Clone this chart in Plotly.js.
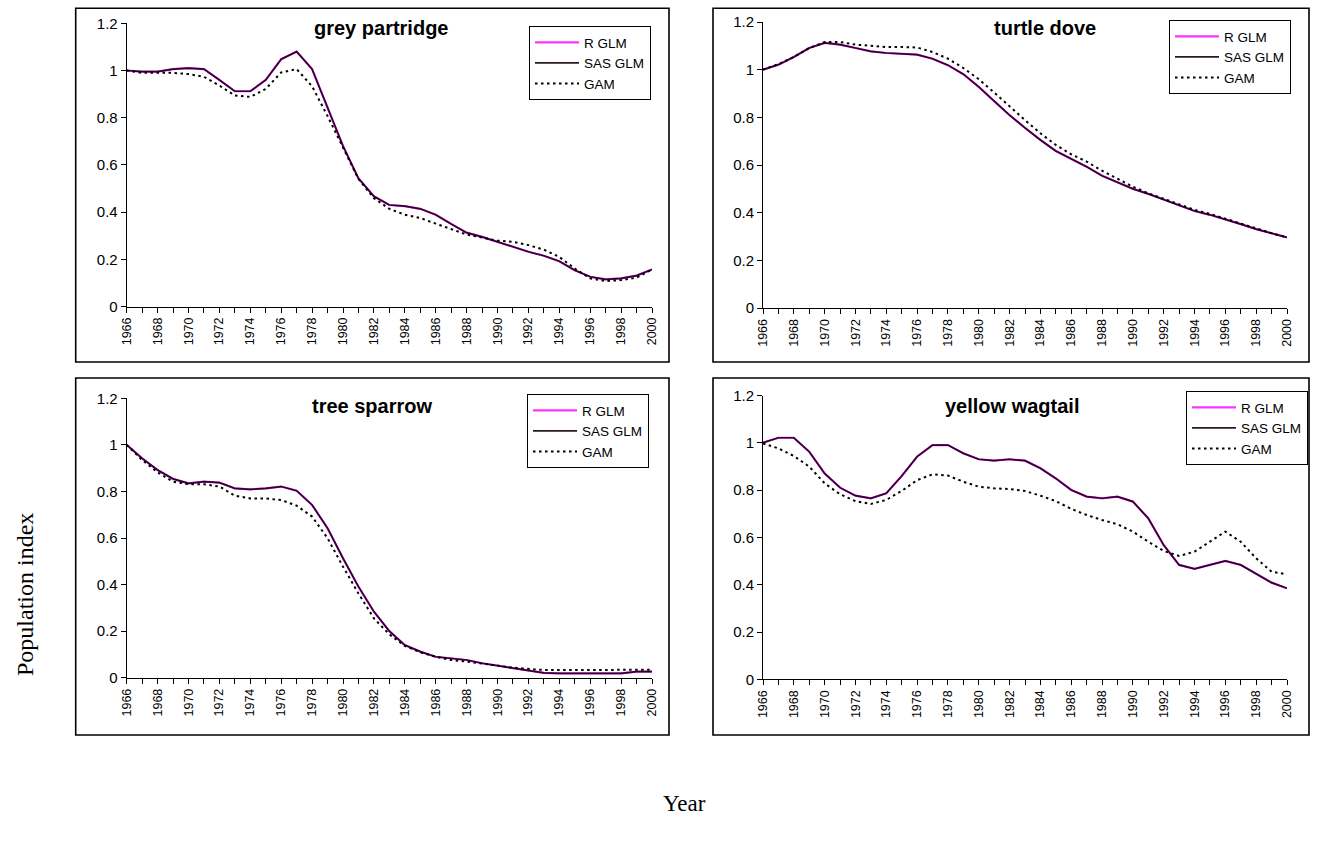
<!DOCTYPE html>
<html>
<head>
<meta charset="utf-8">
<script src="https://cdn.plot.ly/plotly-3.0.1.min.js"></script>
<style>html,body{margin:0;padding:0;background:#fff;}#chart{width:1317px;height:845px;}</style>
</head>
<body>
<div id="chart"></div>
<script>
// ---------- data ----------
const years = [1966,1967,1968,1969,1970,1971,1972,1973,1974,1975,1976,1977,1978,1979,1980,1981,1982,1983,1984,1985,1986,1987,1988,1989,1990,1991,1992,1993,1994,1995,1996,1997,1998,1999,2000];
const seriesNames = ["R GLM", "SAS GLM", "GAM"];
const panelTitles = ["grey partridge", "turtle dove", "tree sparrow", "yellow wagtail"];
const yTickVals = [0, 0.2, 0.4, 0.6, 0.8, 1, 1.2];

const greyPartridgeR   = [1.0,0.995,0.995,1.006,1.01,1.006,0.96,0.912,0.912,0.96,1.048,1.08,1.006,0.84,0.68,0.543,0.467,0.43,0.425,0.414,0.389,0.35,0.313,0.295,0.274,0.253,0.232,0.215,0.192,0.154,0.126,0.115,0.119,0.131,0.157];
const greyPartridgeSAS = [1.0,0.995,0.995,1.006,1.01,1.006,0.96,0.912,0.912,0.96,1.048,1.08,1.006,0.84,0.68,0.543,0.467,0.43,0.425,0.414,0.389,0.35,0.313,0.295,0.274,0.253,0.232,0.215,0.192,0.154,0.126,0.115,0.119,0.131,0.157];
const greyPartridgeGAM = [1.0,0.99,0.99,0.99,0.985,0.973,0.936,0.894,0.888,0.922,0.992,1.006,0.933,0.807,0.674,0.54,0.459,0.414,0.389,0.375,0.351,0.327,0.305,0.292,0.279,0.274,0.26,0.241,0.21,0.161,0.119,0.108,0.112,0.122,0.157];

const turtleDoveR   = [1.0,1.021,1.053,1.091,1.112,1.105,1.091,1.077,1.07,1.065,1.063,1.046,1.019,0.981,0.928,0.868,0.809,0.756,0.705,0.659,0.625,0.593,0.555,0.526,0.5,0.479,0.456,0.43,0.407,0.391,0.373,0.352,0.331,0.314,0.296];
const turtleDoveSAS = [1.0,1.021,1.053,1.091,1.112,1.105,1.091,1.077,1.07,1.065,1.063,1.046,1.019,0.981,0.928,0.868,0.809,0.756,0.705,0.659,0.625,0.593,0.555,0.526,0.5,0.479,0.456,0.43,0.407,0.391,0.373,0.352,0.331,0.314,0.296];
const turtleDoveGAM = [1.0,1.023,1.053,1.091,1.116,1.116,1.105,1.099,1.095,1.095,1.093,1.074,1.046,1.007,0.96,0.904,0.844,0.788,0.733,0.684,0.645,0.614,0.576,0.541,0.509,0.481,0.458,0.432,0.412,0.395,0.374,0.353,0.332,0.314,0.296];

const treeSparrowR   = [1.0,0.942,0.892,0.854,0.835,0.842,0.838,0.813,0.809,0.813,0.821,0.803,0.742,0.642,0.513,0.391,0.284,0.2,0.14,0.112,0.09,0.083,0.076,0.062,0.052,0.04,0.029,0.021,0.019,0.019,0.019,0.019,0.019,0.026,0.026];
const treeSparrowSAS = [1.0,0.942,0.892,0.854,0.835,0.842,0.838,0.813,0.809,0.813,0.821,0.803,0.742,0.642,0.513,0.391,0.284,0.2,0.14,0.112,0.09,0.083,0.076,0.062,0.052,0.04,0.029,0.021,0.019,0.019,0.019,0.019,0.019,0.026,0.026];
const treeSparrowGAM = [1.0,0.935,0.882,0.842,0.831,0.831,0.821,0.782,0.77,0.77,0.763,0.739,0.692,0.599,0.477,0.362,0.255,0.186,0.137,0.109,0.09,0.076,0.069,0.059,0.052,0.043,0.037,0.033,0.033,0.033,0.033,0.033,0.033,0.034,0.034];

const yellowWagtailR   = [1.001,1.022,1.022,0.963,0.871,0.811,0.777,0.766,0.787,0.86,0.942,0.991,0.991,0.956,0.931,0.925,0.931,0.925,0.893,0.85,0.801,0.773,0.766,0.773,0.752,0.681,0.568,0.484,0.467,0.484,0.501,0.484,0.448,0.409,0.385];
const yellowWagtailSAS = [1.001,1.022,1.022,0.963,0.871,0.811,0.777,0.766,0.787,0.86,0.942,0.991,0.991,0.956,0.931,0.925,0.931,0.925,0.893,0.85,0.801,0.773,0.766,0.773,0.752,0.681,0.568,0.484,0.467,0.484,0.501,0.484,0.448,0.409,0.385];
const yellowWagtailGAM = [0.998,0.977,0.945,0.9,0.829,0.783,0.754,0.742,0.759,0.797,0.843,0.867,0.862,0.836,0.815,0.808,0.805,0.797,0.777,0.754,0.721,0.695,0.674,0.656,0.625,0.582,0.543,0.522,0.54,0.582,0.625,0.582,0.512,0.455,0.444];

// ---------- build ----------
const W = 1317, H = 845;
const px = v => v / W;
const py = v => 1 - v / H;

const panelSeries = [
  [greyPartridgeR, greyPartridgeSAS, greyPartridgeGAM],
  [turtleDoveR, turtleDoveSAS, turtleDoveGAM],
  [treeSparrowR, treeSparrowSAS, treeSparrowGAM],
  [yellowWagtailR, yellowWagtailSAS, yellowWagtailGAM]
];

// plot areas in pixels: [x0, x1, yTop(1.2), yBottom(0)]
const areas = [
  [126.7, 652, 23.3, 306.5],
  [763, 1287, 22, 308],
  [126.7, 652, 398.3, 677.7],
  [763, 1287, 395.7, 679.3]
];
// frames [x0,y0,x1,y1]
const frames = [
  [75.7, 8.3, 669, 362],
  [713, 8.3, 1309, 362],
  [75.7, 378, 669, 735],
  [713, 378, 1309, 735]
];
// legends [left, top]
const legendPos = [[529, 26], [1169, 20], [527, 394], [1186, 391]];
// titles [centerX, centerY]
const titlePos = [[381, 28], [1045, 28], [372, 406], [1012, 406]];

const styles = [
  {color: '#ff33ff', width: 2.2, dash: 'solid'},
  {color: 'rgba(20,0,20,0.9)', width: 1.7, dash: 'solid'},
  {color: '#000000', width: 2, dash: '2.5px,3.5px'}
];

const traces = [];
const layout = {
  width: W, height: H,
  margin: {l: 0, r: 0, t: 0, b: 0},
  paper_bgcolor: '#fff', plot_bgcolor: '#fff',
  font: {family: 'Liberation Sans, Arial, sans-serif', color: '#000'},
  shapes: [], annotations: []
};

for (let p = 0; p < 4; p++) {
  const sfx = p === 0 ? '' : String(p + 1);
  const legName = 'legend' + sfx;
  for (let s = 0; s < 3; s++) {
    traces.push({
      type: 'scatter', mode: 'lines',
      x: years, y: panelSeries[p][s],
      name: seriesNames[s],
      xaxis: 'x' + sfx, yaxis: 'y' + sfx,
      legend: legName,
      legendgroup: 'g' + p + '_' + s,
      line: {color: styles[s].color, width: styles[s].width, dash: styles[s].dash},
      hoverinfo: 'skip'
    });
  }
  const a = areas[p];
  layout['xaxis' + sfx] = {
    domain: [px(a[0]), px(a[1])], anchor: 'y' + sfx,
    range: [1966, 2000], tickmode: 'linear', tick0: 1966, dtick: 2,
    tickangle: -90, ticks: 'outside', ticklen: 5, tickcolor: '#000', tickwidth: 1,
    showline: true, linecolor: '#000', linewidth: 1,
    showgrid: false, zeroline: false,
    tickfont: {family: 'Liberation Sans, Arial, sans-serif', size: 12.5, color: '#000'},
    minor: {dtick: 1, tick0: 1966, ticks: 'outside', ticklen: 5, tickcolor: '#000', tickwidth: 1, showgrid: false}
  };
  layout['yaxis' + sfx] = {
    domain: [py(a[3]), py(a[2])], anchor: 'x' + sfx,
    range: [0, 1.2], tickmode: 'array', tickvals: yTickVals,
    ticktext: yTickVals.map(v => String(v)),
    ticks: 'outside', ticklen: 5, tickcolor: '#000', tickwidth: 1,
    showline: true, linecolor: '#000', linewidth: 1,
    showgrid: false, zeroline: false,
    tickfont: {family: 'Liberation Sans, Arial, sans-serif', size: 15, color: '#000'}
  };
  const lp = legendPos[p];
  layout[legName] = {
    x: px(lp[0]), y: py(lp[1]), xanchor: 'left', yanchor: 'top',
    bgcolor: '#fff', bordercolor: '#000', borderwidth: 1,
    font: {family: 'Liberation Sans, Arial, sans-serif', size: 13.5, color: '#000'},
    itemwidth: 44, tracegroupgap: 4, traceorder: 'normal'
  };
  const f = frames[p];
  layout.shapes.push({
    type: 'rect', xref: 'paper', yref: 'paper',
    x0: px(f[0]), x1: px(f[2]), y0: py(f[3]), y1: py(f[1]),
    line: {color: '#000', width: 1.6}, fillcolor: 'rgba(0,0,0,0)', layer: 'below'
  });
  const tp = titlePos[p];
  layout.annotations.push({
    xref: 'paper', yref: 'paper', x: px(tp[0]), y: py(tp[1]),
    xanchor: 'center', yanchor: 'middle', showarrow: false,
    text: '<b>' + panelTitles[p] + '</b>',
    font: {family: 'Liberation Sans, Arial, sans-serif', size: 20, color: '#000'}
  });
}

layout.annotations.push({
  xref: 'paper', yref: 'paper', x: px(25), y: py(595),
  xanchor: 'center', yanchor: 'middle', showarrow: false, textangle: -90,
  text: 'Population index',
  font: {family: 'Liberation Serif, Times New Roman, serif', size: 24, color: '#000'}
});
layout.annotations.push({
  xref: 'paper', yref: 'paper', x: px(684), y: py(803),
  xanchor: 'center', yanchor: 'middle', showarrow: false,
  text: 'Year',
  font: {family: 'Liberation Serif, Times New Roman, serif', size: 23, color: '#000'}
});

Plotly.newPlot('chart', traces, layout, {staticPlot: true, displayModeBar: false});
</script>
</body>
</html>
